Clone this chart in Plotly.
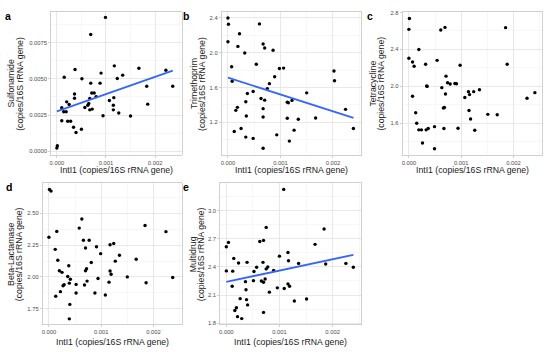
import numpy as np
import plotly.graph_objects as go

W, H = 550, 352

# ---------------- data ----------------
intI1_a = [0.00000, 0.00001, 0.00099, 0.00069, 0.00037, 0.00015, 0.00051, 0.00117, 0.00090, 0.00134,
           0.00123, 0.00167, 0.00222, 0.00183, 0.00236, 0.00185, 0.00069, 0.00088, 0.00036, 0.00036,
           0.00071, 0.00076, 0.00080, 0.00067, 0.00065, 0.00063, 0.00057, 0.00067, 0.00072, 0.00094,
           0.00107, 0.00116, 0.00115, 0.00115, 0.00126, 0.00150, 0.00010, 0.00014, 0.00019, 0.00020,
           0.00025, 0.00010, 0.00022, 0.00028, 0.00034, 0.00039, 0.00050]
sulfonamide = [0.00023, 0.00039, 0.00923, 0.00805, 0.00564, 0.00511, 0.00500, 0.00589, 0.00539, 0.00525,
               0.00502, 0.00573, 0.00559, 0.00448, 0.00448, 0.00325, 0.00470, 0.00470, 0.00395, 0.00366,
               0.00402, 0.00402, 0.00377, 0.00364, 0.00330, 0.00318, 0.00302, 0.00286, 0.00291, 0.00245,
               0.00350, 0.00370, 0.00318, 0.00286, 0.00264, 0.00243, 0.00300, 0.00273, 0.00273, 0.00341,
               0.00323, 0.00211, 0.00207, 0.00207, 0.00166, 0.00130, 0.00152]

intI1_b = [0.00000, 0.00001, 0.00000, 0.00022, 0.00019, 0.00032, 0.00060, 0.00067, 0.00070, 0.00086,
           0.00054, 0.00007, 0.00098, 0.00106, 0.00202, 0.00203, 0.00089, 0.00008, 0.00079, 0.00075,
           0.00048, 0.00037, 0.00063, 0.00070, 0.00034, 0.00113, 0.00115, 0.00122, 0.00150, 0.00018,
           0.00015, 0.00067, 0.00035, 0.00067, 0.00113, 0.00134, 0.00167, 0.00224, 0.00239, 0.00025,
           0.00126, 0.00012, 0.00034, 0.00048, 0.00093, 0.00117, 0.00067]
trimethoprim = [2.400, 2.328, 2.127, 2.218, 2.073, 1.997, 2.332, 2.100, 2.054, 2.028,
                1.868, 1.838, 1.819, 1.823, 1.789, 1.678, 1.724, 1.671, 1.644, 1.587,
                1.553, 1.530, 1.473, 1.454, 1.435, 1.431, 1.424, 1.451, 1.538, 1.371,
                1.337, 1.356, 1.272, 1.261, 1.245, 1.234, 1.249, 1.348, 1.128, 1.128,
                1.109, 1.093, 1.029, 1.014, 1.055, 0.983, 0.900]

intI1_c = [0.00000, 0.00001, 0.00000, 0.00019, 0.00007, 0.00010, 0.00032, 0.00061, 0.00069, 0.00054,
           0.00098, 0.00185, 0.00188, 0.00034, 0.00035, 0.00007, 0.00071, 0.00074, 0.00079, 0.00088,
           0.00091, 0.00063, 0.00070, 0.00107, 0.00114, 0.00116, 0.00124, 0.00135, 0.00226, 0.00241,
           0.00068, 0.00066, 0.00115, 0.00118, 0.00013, 0.00015, 0.00019, 0.00024, 0.00033, 0.00037,
           0.00049, 0.00067, 0.00094, 0.00126, 0.00151, 0.00169, 0.00026, 0.00049]
tetracycline = [2.618, 2.736, 2.304, 2.400, 2.264, 2.218, 2.239, 2.611, 2.639, 2.282,
                2.229, 2.636, 2.239, 2.004, 2.000, 1.893, 2.111, 2.039, 2.025, 2.032,
                2.029, 1.986, 1.918, 1.879, 1.943, 1.911, 1.943, 1.964, 1.872, 1.932,
                1.772, 1.765, 1.739, 1.647, 1.714, 1.600, 1.529, 1.529, 1.529, 1.543,
                1.564, 1.543, 1.547, 1.525, 1.697, 1.693, 1.386, 1.325]

intI1_d = [0.00001, 0.00004, 0.00000, 0.00015, 0.00012, 0.00017, 0.00020, 0.00025, 0.00038, 0.00036,
           0.00041, 0.00039, 0.00027, 0.00029, 0.00022, 0.00013, 0.00040, 0.00039, 0.00052, 0.00052,
           0.00063, 0.00058, 0.00066, 0.00077, 0.00070, 0.00081, 0.00070, 0.00072, 0.00073, 0.00068,
           0.00091, 0.00099, 0.00094, 0.00088, 0.00108, 0.00117, 0.00124, 0.00135, 0.00127, 0.00117,
           0.00119, 0.00115, 0.00150, 0.00167, 0.00184, 0.00186, 0.00224, 0.00237]
beta_lactamase = [2.688, 2.675, 2.312, 2.358, 2.217, 2.131, 2.049, 2.036, 2.088, 2.003,
                  1.982, 1.951, 1.930, 1.938, 1.884, 1.848, 1.784, 1.670, 1.941, 1.874,
                  2.456, 2.384, 2.289, 2.289, 2.227, 2.113, 2.049, 2.064, 1.967, 1.936,
                  2.237, 2.183, 1.987, 1.874, 1.858, 2.253, 2.263, 2.170, 2.124, 2.046,
                  2.021, 1.959, 2.000, 2.139, 2.405, 1.954, 2.356, 1.995]

intI1_e = [0.00000, 0.00004, 0.00000, 0.00012, 0.00014, 0.00023, 0.00039, 0.00011, 0.00036, 0.00037,
           0.00038, 0.00040, 0.00026, 0.00019, 0.00016, 0.00021, 0.00029, 0.00057, 0.00052, 0.00051,
           0.00063, 0.00070, 0.00069, 0.00078, 0.00075, 0.00073, 0.00066, 0.00070, 0.00081, 0.00070,
           0.00089, 0.00075, 0.00100, 0.00096, 0.00109, 0.00116, 0.00117, 0.00116, 0.00119, 0.00108,
           0.00128, 0.00136, 0.00151, 0.00167, 0.00184, 0.00187, 0.00225, 0.00239]
multidrug = [2.616, 2.662, 2.358, 2.355, 2.491, 2.442, 2.449, 2.194, 2.243, 2.156,
             2.051, 1.995, 2.062, 1.964, 1.936, 1.870, 1.849, 2.397, 2.351, 2.254,
             2.672, 2.683, 2.449, 2.400, 2.379, 2.271, 2.250, 2.236, 2.131, 1.915,
             2.362, 2.822, 2.515, 2.177, 2.170, 2.554, 2.466, 2.219, 2.194, 3.227,
             2.037, 2.438, 2.058, 2.641, 2.805, 2.431, 2.438, 2.397]

x_ticks = [0.000, 0.001, 0.002]
x_title = "IntI1 (copies/16S rRNA gene)"
y_unit = "(copies/16S rRNA gene)"

# ---------------- layout helpers ----------------
def fx(px):
    return px / W

def fy(py):
    return 1 - py / H

GRID = "#E4E4E4"
MINOR = "#F1F1F1"
BORDER = "#C4C4C4"
TICKC = "#B3B3B3"
FONT = "Liberation Sans, Arial, sans-serif"

panels = [
    dict(letter="a", x=intI1_a, y=sulfonamide, fit=True, name="Sulfonamide",
         box=(50, 181, 10, 155), yr=[-0.00027, 0.00961], dt=0.0025, fmt=".4f",
         ytx=(10, 18.3), lxy=(6.7, 14), xty=170.3),
    dict(letter="b", x=intI1_b, y=trimethoprim, fit=True, name="Trimethoprim",
         box=(221, 361, 10, 155), yr=[0.82, 2.47], dt=0.4, fmt=".1f",
         ytx=(192.7, 200.7), lxy=(185.3, 14), xty=170.3),
    dict(letter="c", x=intI1_c, y=tetracycline, fit=False, name="Tetracycline",
         box=(402.3, 541.7, 10, 155), yr=[1.254, 2.807], dt=0.4, fmt=".1f",
         ytx=(372.7, 380.7), lxy=(369.3, 14), xty=170.3),
    dict(letter="d", x=intI1_d, y=beta_lactamase, fit=False, name="Beta-Lactamase",
         box=(41.7, 181, 183.3, 326.3), yr=[1.625, 2.737], dt=0.25, fmt=".2f",
         ytx=(10, 18.3), lxy=(8.3, 187), xty=343.8),
    dict(letter="e", x=intI1_e, y=multidrug, fit=True, name="Multidrug",
         box=(219.3, 361, 183.3, 326.3), yr=[1.785, 3.293], dt=0.3, fmt=".1f",
         ytx=(192.7, 200.7), lxy=(185.7, 187), xty=343.8),
]

XR = [-0.000121, 0.002541]

fig = go.Figure()
annotations = []
layout = {}

for i, p in enumerate(panels, start=1):
    sfx = "" if i == 1 else str(i)
    xa, ya = "x" + sfx, "y" + sfx
    L, R, T, B = p["box"]
    fig.add_trace(go.Scatter(x=p["x"], y=p["y"], mode="markers",
                             marker=dict(size=3.4, color="black"),
                             xaxis=xa, yaxis=ya, hoverinfo="skip"))
    if p["fit"]:
        xs = np.array(p["x"]); ys = np.array(p["y"])
        k, b0 = np.polyfit(xs, ys, 1)
        xl = np.array([xs.min(), xs.max()])
        fig.add_trace(go.Scatter(x=xl, y=k * xl + b0, mode="lines",
                                 line=dict(color="#3366FF", width=1.8),
                                 xaxis=xa, yaxis=ya, hoverinfo="skip"))
    common = dict(showgrid=True, gridcolor=GRID, gridwidth=0.8, zeroline=False,
                  showline=True, mirror=True, linecolor=BORDER, linewidth=0.8,
                  ticks="outside", ticklen=2, tickwidth=0.6, tickcolor=TICKC,
                  tickfont=dict(size=5.8, color="#4D4D4D", family=FONT))
    layout["xaxis" + sfx] = dict(domain=[fx(L), fx(R)], anchor=ya, range=XR,
                                 tickvals=x_ticks, tickformat=".3f",
                                 minor=dict(dtick=0.0005, tick0=0, showgrid=True,
                                            gridcolor=MINOR, gridwidth=0.6),
                                 **common)
    layout["yaxis" + sfx] = dict(domain=[fy(B), fy(T)], anchor=xa, range=p["yr"],
                                 tick0=0, dtick=p["dt"], tickformat=p["fmt"],
                                 minor=dict(dtick=p["dt"] / 2, tick0=0, showgrid=True,
                                            gridcolor=MINOR, gridwidth=0.6),
                                 **common)
    cy = (T + B) / 2
    annotations.append(dict(text=p["name"], x=fx(p["ytx"][0]), y=fy(cy), xref="paper", yref="paper",
                            textangle=-90, showarrow=False, xanchor="center", yanchor="middle",
                            borderpad=0,
                            font=dict(size=8.7, color="#1A1A1A", family=FONT)))
    annotations.append(dict(text=y_unit, x=fx(p["ytx"][1]), y=fy(cy), xref="paper", yref="paper",
                            textangle=-90, showarrow=False, xanchor="center", yanchor="middle",
                            borderpad=0,
                            font=dict(size=8.7, color="#1A1A1A", family=FONT)))
    annotations.append(dict(text=x_title, x=fx((L + R) / 2), y=fy(p["xty"]), xref="paper", yref="paper",
                            showarrow=False, xanchor="center", yanchor="middle", borderpad=0,
                            font=dict(size=8.7, color="#1A1A1A", family=FONT)))
    annotations.append(dict(text="<b>" + p["letter"] + "</b>", x=fx(p["lxy"][0]), y=fy(p["lxy"][1]),
                            xref="paper", yref="paper", showarrow=False,
                            xanchor="center", yanchor="middle", borderpad=0,
                            font=dict(size=10.5, color="black", family=FONT)))

fig.update_layout(width=W, height=H, margin=dict(l=0, r=0, t=0, b=0),
                  plot_bgcolor="white", paper_bgcolor="white", showlegend=False,
                  font=dict(family=FONT), annotations=annotations, **layout)

fig.write_html("out.html", config={"displayModeBar": False, "staticPlot": True},
               post_script="document.body.style.margin='0';document.body.style.padding='0';")
